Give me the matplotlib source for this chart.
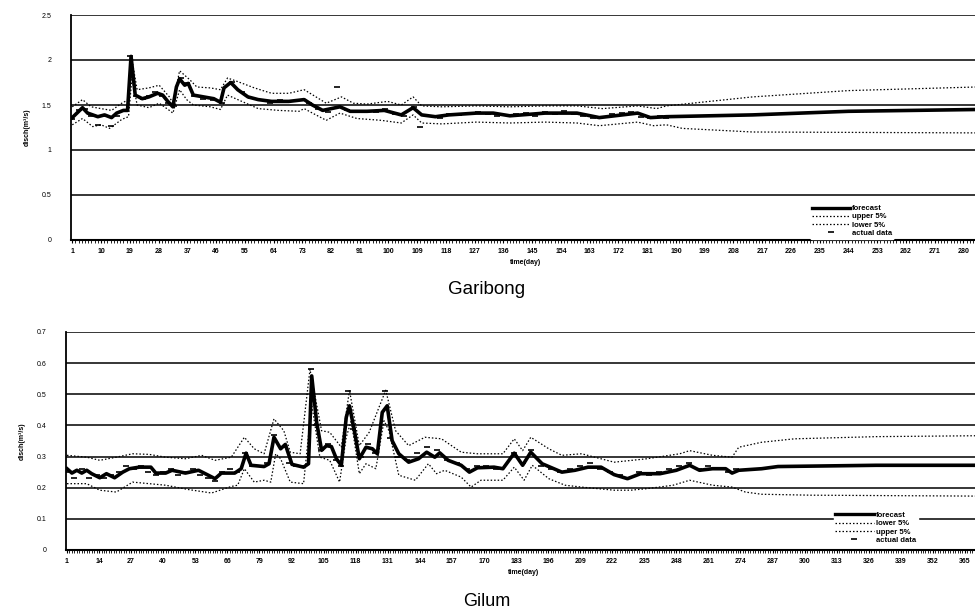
import matplotlib
matplotlib.use("Agg")
import matplotlib.pyplot as plt
from matplotlib.ticker import MultipleLocator
from matplotlib.lines import Line2D

plt.rcParams['font.family'] = ['Liberation Sans', 'DejaVu Sans']

# ---------------- Garibong (top) ----------------
g_fc_days = [1, 4.2, 5.8, 9, 11.1, 13.3, 14.9, 17, 18.3, 19.4, 20.7, 22.9, 25, 27.7, 29.3, 30.9, 32.5,
             33.6, 34.6, 36.2, 37.3, 38.9, 42.1, 45.3, 47.4, 48.5, 50.6, 52.8, 56, 59.2, 63.4, 68.8,
             73.6, 76.2, 79.4, 84.8, 88, 93.3, 98.7, 104, 107.7, 110.4, 114.7, 118.9, 127.5, 132.8,
             138, 149, 159, 166, 178, 182, 187, 214, 244, 284]
g_fc_vals = [1.36, 1.47, 1.41, 1.37, 1.39, 1.36, 1.41, 1.44, 1.44, 2.04, 1.61, 1.57, 1.59, 1.63, 1.61, 1.54, 1.48,
             1.70, 1.79, 1.72, 1.74, 1.61, 1.59, 1.57, 1.53, 1.69, 1.75, 1.67, 1.59, 1.56, 1.54, 1.54,
             1.56, 1.50, 1.44, 1.48, 1.43, 1.43, 1.44, 1.39, 1.47, 1.39, 1.37, 1.39, 1.41, 1.41,
             1.38, 1.41, 1.41, 1.36, 1.41, 1.36, 1.37, 1.39, 1.43, 1.45]

g_up_days = [1, 4.2, 6.9, 10, 13.3, 16.5, 18.6, 19.5, 21.3, 25, 28.2, 31.4, 32.5, 34.6, 37.8, 40, 44.2,
             47.4, 49.6, 52.8, 58, 63.4, 68.8, 73.6, 77.3, 80.5, 85.3, 89, 93.3, 99.7, 104, 107.7, 110.4,
             116.7, 127.5, 138, 149, 159, 167, 178, 184, 187, 214, 244, 284]
g_up_vals = [1.48, 1.56, 1.48, 1.46, 1.44, 1.52, 1.56, 2.04, 1.67, 1.69, 1.72, 1.59, 1.52, 1.88, 1.78, 1.70, 1.69,
             1.67, 1.80, 1.76, 1.69, 1.63, 1.63, 1.67, 1.59, 1.52, 1.59, 1.52, 1.51, 1.54, 1.50, 1.59, 1.49,
             1.48, 1.49, 1.48, 1.49, 1.49, 1.46, 1.49, 1.46, 1.49, 1.59, 1.66, 1.70]

g_lo_days = [1, 4.2, 7.4, 10, 12.7, 16.5, 18.6, 19.7, 21.3, 25, 28.2, 31.4, 32.5, 34.6, 36.8, 38.9, 44.2,
             47.4, 49.6, 52.8, 59.2, 65.6, 72, 73.6, 76.2, 80.5, 84.8, 90.1, 97.6, 104, 107.7, 110.4,
             116.7, 127.5, 138, 149, 159, 166, 178, 183, 187, 192, 214, 284]
g_lo_vals = [1.28, 1.35, 1.26, 1.28, 1.24, 1.34, 1.37, 1.81, 1.50, 1.47, 1.52, 1.44, 1.41, 1.67, 1.56, 1.50, 1.48,
             1.45, 1.61, 1.56, 1.46, 1.44, 1.43, 1.46, 1.41, 1.33, 1.41, 1.35, 1.33, 1.30, 1.39, 1.30,
             1.29, 1.31, 1.30, 1.31, 1.30, 1.27, 1.31, 1.27, 1.28, 1.24, 1.20, 1.19]

g_act_days = [1, 3, 5, 7, 9, 11, 13, 15, 17, 19, 21, 23, 25, 27, 29, 31, 33, 35, 37, 39, 42, 45, 48, 51, 54,
              57, 60, 63, 66, 69, 72, 75, 78, 81, 84, 87, 90, 93, 96, 99, 102, 105, 108, 110, 113, 116, 119,
              122, 125, 128, 131, 134, 137, 140, 143, 146, 149, 152, 155, 158, 161, 164, 167, 170, 173, 176,
              179, 182, 185, 187]
g_act_vals = [1.34, 1.44, 1.45, 1.38, 1.28, 1.38, 1.27, 1.38, 1.43, 2.05, 1.60, 1.57, 1.60, 1.64, 1.60, 1.52,
              1.49, 1.80, 1.74, 1.60, 1.57, 1.56, 1.52, 1.76, 1.64, 1.58, 1.55, 1.52, 1.55, 1.54, 1.55, 1.52,
              1.45, 1.42, 1.70, 1.44, 1.42, 1.43, 1.42, 1.45, 1.40, 1.38, 1.48, 1.25, 1.38, 1.36, 1.40, 1.39,
              1.40, 1.42, 1.40, 1.38, 1.39, 1.40, 1.41, 1.38, 1.42, 1.40, 1.43, 1.40, 1.38, 1.36, 1.37, 1.40,
              1.41, 1.42, 1.37, 1.35, 1.38, 1.36]

g_ticks = list(range(1, 281, 9))
g_yticks = [0, 0.5, 1, 1.5, 2, 2.5]
g_ylabels = ["0", "0.5", "1", "1.5", "2", "2.5"]

# ---------------- Gilum (bottom) ----------------
m_fc_days = [1, 3, 5, 7, 9, 11, 14.3, 17, 20.3, 23.6, 26.3, 30.3, 35, 37, 41, 43.6, 49, 54.3, 58.3, 61,
             63.6, 69, 71.6, 73.6, 75.6, 80.9, 82.9, 84.9, 87.6, 89.5, 92.2, 96.9, 98.9, 100.2, 102.2,
             104.2, 106.2, 108.2, 110.2, 112.2, 114.2, 115.5, 117.5, 119.5, 122.2, 124.8, 126.8, 128.8,
             130.8, 132.8, 135.5, 139.5, 143.5, 146.8, 150.1, 152.1, 155.5, 160.8, 164.1, 167.4, 174.1,
             177.7, 182.3, 185.7, 189, 193.6, 201.6, 206.9, 212.2, 217.5, 222.8, 228.2, 233.5, 241.4, 248,
             253.4, 257.4, 262.7, 268, 270.6, 273.3, 282.6, 289.2, 329, 371]
m_fc_vals = [0.261, 0.247, 0.256, 0.247, 0.256, 0.245, 0.232, 0.245, 0.232, 0.250, 0.261, 0.266, 0.266,
             0.247, 0.247, 0.256, 0.247, 0.256, 0.240, 0.229, 0.247, 0.247, 0.261, 0.311, 0.272, 0.268,
             0.277, 0.362, 0.325, 0.339, 0.275, 0.266, 0.277, 0.559, 0.410, 0.320, 0.335, 0.332, 0.293,
             0.272, 0.426, 0.463, 0.383, 0.293, 0.330, 0.325, 0.309, 0.442, 0.463, 0.351, 0.309, 0.282,
             0.293, 0.314, 0.298, 0.312, 0.288, 0.272, 0.250, 0.264, 0.266, 0.261, 0.311, 0.272, 0.314,
             0.277, 0.250, 0.256, 0.266, 0.266, 0.242, 0.229, 0.245, 0.245, 0.256, 0.272, 0.256, 0.261,
             0.261, 0.247, 0.256, 0.261, 0.268, 0.272, 0.272]

m_up_days = [1, 9, 14.3, 21, 27.6, 34.3, 41, 49, 55.6, 61, 67.6, 72.9, 76.9, 80.9, 84.9, 88.9, 91.5, 95.5,
             99.5, 104.2, 107.5, 112.2, 115.5, 119.5, 123.5, 130.2, 134.2, 139.5, 146.1, 152.8, 160.8,
             167.4, 177.7, 182.3, 185.7, 189, 196.3, 201.6, 209.6, 222.8, 236.1, 249.4, 253.4, 262.7,
             270.6, 273.3, 282.6, 295.9, 329, 371]
m_up_vals = [0.304, 0.298, 0.288, 0.298, 0.309, 0.307, 0.298, 0.293, 0.304, 0.288, 0.298, 0.362, 0.325,
             0.309, 0.421, 0.383, 0.314, 0.309, 0.580, 0.383, 0.378, 0.330, 0.513, 0.335, 0.378, 0.513,
             0.383, 0.335, 0.362, 0.357, 0.314, 0.309, 0.309, 0.357, 0.319, 0.362, 0.325, 0.304, 0.309,
             0.282, 0.293, 0.309, 0.319, 0.304, 0.298, 0.330, 0.346, 0.357, 0.364, 0.367]

m_lo_days = [1, 9, 14.3, 21, 27.6, 34.3, 41, 50.3, 59.6, 67.6, 70.2, 72.9, 76.9, 80.9, 83.6, 85.6, 87.6,
             91.5, 96.9, 100.2, 103.5, 107.5, 111.5, 114.2, 116.2, 119.5, 122.2, 126.2, 129.5, 131.5,
             135.5, 142.2, 147.5, 150.8, 154.1, 160.8, 164.8, 168.8, 177.7, 182.3, 186.3, 189.6, 196.3,
             202.9, 209.6, 222.8, 229.5, 236.1, 246.7, 253.4, 262.7, 270.6, 276, 282.6, 302.5, 371]
m_lo_vals = [0.213, 0.213, 0.192, 0.186, 0.218, 0.213, 0.208, 0.194, 0.183, 0.204, 0.208, 0.261, 0.218,
             0.224, 0.218, 0.309, 0.293, 0.218, 0.213, 0.469, 0.298, 0.288, 0.218, 0.362, 0.415, 0.245,
             0.277, 0.261, 0.415, 0.383, 0.240, 0.224, 0.277, 0.245, 0.256, 0.234, 0.202, 0.224, 0.224,
             0.266, 0.224, 0.272, 0.229, 0.208, 0.202, 0.192, 0.192, 0.197, 0.208, 0.224, 0.208, 0.202,
             0.186, 0.179, 0.176, 0.173]

m_act_days = [1, 4, 7, 10, 13, 16, 19, 22, 25, 28, 31, 34, 37, 40, 43, 46, 49, 52, 55, 58, 61, 64, 67, 70,
              73, 76, 79, 82, 85, 88, 91, 94, 97, 100, 102, 104, 107, 110, 112, 115, 117, 120, 123, 126,
              130, 132, 135, 139, 143, 147, 151, 155, 159, 163, 167, 171, 175, 182, 186, 189, 193, 197,
              201, 205, 209, 213, 217, 221, 225, 229, 233, 237, 241, 245, 249, 253, 257, 261, 265, 269, 272]
m_act_vals = [0.25, 0.23, 0.26, 0.23, 0.24, 0.23, 0.24, 0.25, 0.27, 0.26, 0.27, 0.25, 0.24, 0.25, 0.26,
              0.24, 0.25, 0.26, 0.24, 0.23, 0.22, 0.25, 0.26, 0.25, 0.31, 0.27, 0.27, 0.28, 0.37, 0.33,
              0.28, 0.27, 0.27, 0.58, 0.40, 0.32, 0.34, 0.29, 0.27, 0.51, 0.39, 0.30, 0.34, 0.31, 0.51,
              0.36, 0.30, 0.29, 0.31, 0.33, 0.32, 0.29, 0.28, 0.26, 0.27, 0.27, 0.26, 0.31, 0.28, 0.32,
              0.27, 0.26, 0.25, 0.26, 0.27, 0.28, 0.26, 0.25, 0.24, 0.23, 0.25, 0.24, 0.25, 0.26, 0.27,
              0.28, 0.26, 0.27, 0.26, 0.25, 0.26]

m_ticks = list(range(1, 366, 13))
m_yticks = [0, 0.1, 0.2, 0.3, 0.4, 0.5, 0.6, 0.7]
m_ylabels = ["0", "0.1", "0.2", "0.3", "0.4", "0.5", "0.6", "0.7"]

fig = plt.figure(figsize=(9.75, 6.14), dpi=100)

DOT = (0, (1.2, 1.6))


def draw(ax, fc_d, fc_v, up_d, up_v, lo_d, lo_v, act_d, act_v, ticks, yticks, ylabels,
         xmax, ymax, legend_order, legend_anchor):
    for y in yticks:
        ax.axhline(y, color='black', lw=1.1, zorder=1)
    ax.plot(up_d, up_v, color='black', lw=0.9, ls=DOT, zorder=2)
    ax.plot(lo_d, lo_v, color='black', lw=0.9, ls=DOT, zorder=2)
    ax.plot(fc_d, fc_v, color='black', lw=2.6, zorder=3)
    ax.plot(act_d, act_v, ls='none', marker='_', ms=4, mew=1.2, color='black', zorder=4)
    ax.set_xlim(0.6, xmax)
    ax.set_ylim(0, ymax)
    ax.set_xticks(ticks)
    ax.set_xticklabels([str(t) for t in ticks], fontsize=5, fontweight='bold')
    ax.xaxis.set_minor_locator(MultipleLocator(1))
    ax.tick_params(axis='x', which='major', length=2.5, width=0.8, pad=3)
    ax.tick_params(axis='x', which='minor', length=1.8, width=0.6)
    ax.set_yticks(yticks)
    ax.set_yticklabels(ylabels, fontsize=5)
    ax.tick_params(axis='y', length=0, pad=14)
    for s in ['top', 'right']:
        ax.spines[s].set_visible(False)
    ax.spines['left'].set_linewidth(1.3)
    ax.spines['bottom'].set_linewidth(1.5)
    ax.set_ylabel('disch(m³/s)', fontsize=5, fontweight='bold', labelpad=8)
    ax.set_xlabel('time(day)', fontsize=5, fontweight='bold', labelpad=1)
    ax.xaxis.set_label_coords(0.5, -0.085)
    handles = {'forecast': Line2D([], [], color='black', lw=2.4),
               'upper 5%': Line2D([], [], color='black', lw=0.9, ls=DOT),
               'lower 5%': Line2D([], [], color='black', lw=0.9, ls=DOT),
               'actual data': Line2D([], [], ls='none', marker='_', ms=4, mew=1.2, color='black')}
    leg = ax.legend([handles[k] for k in legend_order], legend_order, loc='upper left',
                    bbox_to_anchor=legend_anchor, frameon=True, handlelength=5.0,
                    handletextpad=0.3, labelspacing=0.12, borderpad=0.2,
                    prop={'weight': 'bold', 'size': 5.5})
    leg.get_frame().set_facecolor('white')
    leg.get_frame().set_edgecolor('white')
    leg.get_frame().set_alpha(1)


ax1 = fig.add_axes([71 / 975, 1 - 240 / 614, 910 / 975, 225 / 614])
draw(ax1, g_fc_days, g_fc_vals, g_up_days, g_up_vals, g_lo_days, g_lo_vals, g_act_days, g_act_vals,
     g_ticks, g_yticks, g_ylabels, 285.5, 2.5,
     ['forecast', 'upper 5%', 'lower 5%', 'actual data'], (0.808, 0.18))

ax2 = fig.add_axes([66 / 975, 1 - 550 / 614, 915 / 975, 218 / 614])
draw(ax2, m_fc_days, m_fc_vals, m_up_days, m_up_vals, m_lo_days, m_lo_vals, m_act_days, m_act_vals,
     m_ticks, m_yticks, m_ylabels, 371.5, 0.7,
     ['forecast', 'lower 5%', 'upper 5%', 'actual data'], (0.835, 0.2))

fig.text(487 / 975, 1 - 289 / 614, 'Garibong', ha='center', va='center', fontsize=13.5)
fig.text(487 / 975, 1 - 601 / 614, 'Gilum', ha='center', va='center', fontsize=13)

fig.savefig('out.png', dpi=100)
